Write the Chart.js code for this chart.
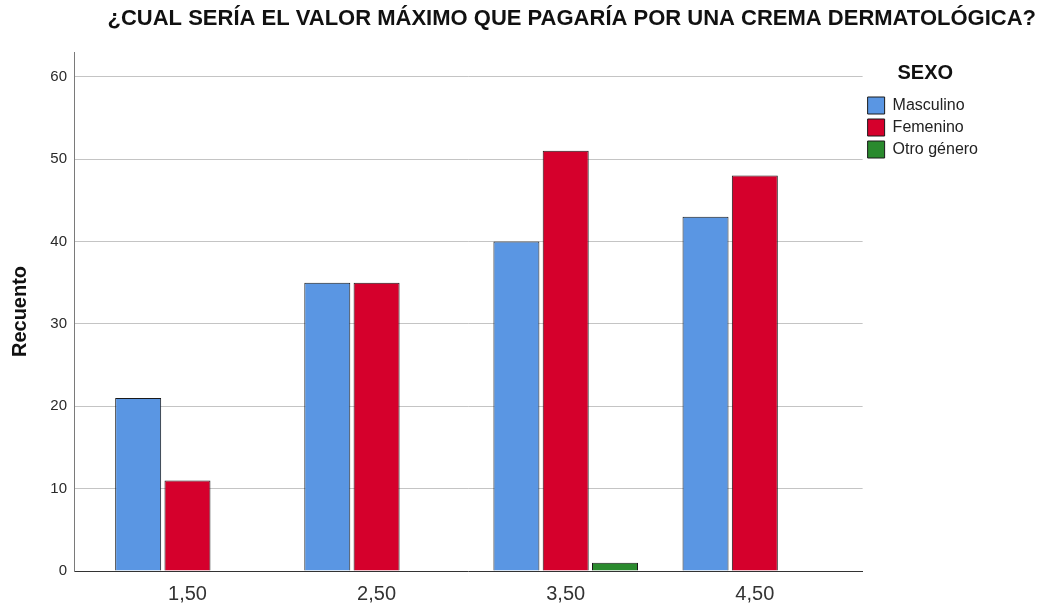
<!DOCTYPE html>
<html lang="es">
<head>
<meta charset="utf-8">
<title>Valor máximo por una crema dermatológica</title>
<script src="https://cdn.jsdelivr.net/npm/chart.js@4.4.1/dist/chart.umd.min.js"></script>
<style>
  html, body { margin: 0; padding: 0; background: #ffffff; }
  #wrap { width: 1043px; height: 607px; position: relative; }
</style>
</head>
<body>
<div id="wrap"><canvas id="grafico"></canvas></div>
<script>
// Datos (recuento por sexo)
const categorias = [1.5, 2.5, 3.5, 4.5];
const etiquetasX = ["1,50", "2,50", "3,50", "4,50"];
const masculino = [21, 35, 40, 43];
const femenino = [11, 35, 51, 48];
const otroGenero = [null, null, 1, null];
const ticksY = [0, 10, 20, 30, 40, 50, 60];

const titulo = "¿CUAL SERÍA EL VALOR MÁXIMO QUE PAGARÍA POR UNA CREMA DERMATOLÓGICA?";
const fuente = "'Liberation Sans', Arial, sans-serif";

// título principal alineado a la derecha, como en el original de SPSS
const tituloPlugin = {
  id: "tituloPlugin",
  afterDraw(chart) {
    const ctx = chart.ctx;
    ctx.save();
    ctx.font = "bold 22px " + fuente;
    ctx.fillStyle = "#111111";
    ctx.textAlign = "right";
    ctx.textBaseline = "middle";
    ctx.fillText(titulo, 1036, 19);
    ctx.restore();
  },
};

const fondoPlugin = {
  id: "fondoPlugin",
  beforeDraw(chart) {
    const ctx = chart.ctx;
    ctx.save();
    ctx.fillStyle = "#ffffff";
    ctx.fillRect(0, 0, chart.width, chart.height);
    ctx.restore();
  },
};

const ctx = document.getElementById("grafico").getContext("2d");

new Chart(ctx, {
  type: "bar",
  data: {
    labels: categorias,
    datasets: [
      {
        label: "Masculino",
        data: masculino,
        backgroundColor: "#5a96e3",
        borderColor: "#1a1a1a",
        borderWidth: 1,
      },
      {
        label: "Femenino",
        data: femenino,
        backgroundColor: "#d5002c",
        borderColor: "#1a1a1a",
        borderWidth: 1,
      },
      {
        label: "Otro género",
        data: otroGenero,
        backgroundColor: "#2a8a2e",
        borderColor: "#1a1a1a",
        borderWidth: 1,
      },
    ],
  },
  options: {
    responsive: true,
    maintainAspectRatio: false,
    animation: false,
    categoryPercentage: 0.782,
    barPercentage: 0.933,
    layout: {
      padding: { top: 52, right: 55, left: 0, bottom: 0 },
    },
    plugins: {
      title: { display: false },
      tooltip: { enabled: false },
      legend: {
        position: "right",
        align: "start",
        fullSize: false,
        title: {
          display: true,
          text: "SEXO",
          color: "#111111",
          font: { family: fuente, size: 20, weight: "bold" },
          padding: { top: 11, bottom: 5 },
        },
        labels: {
          boxWidth: 17,
          boxHeight: 17,
          padding: 5,
          color: "#222222",
          font: { family: fuente, size: 16 },
        },
      },
    },
    scales: {
      x: {
        type: "linear",
        min: 0.9,
        max: 5.07,
        offset: false,
        afterBuildTicks: (scale) => {
          scale.ticks = categorias.map((v) => ({ value: v }));
        },
        afterFit: (scale) => {
          scale.height = 36;
        },
        ticks: {
          padding: 3,
          color: "#333333",
          font: { family: fuente, size: 20 },
          callback: (value) => etiquetasX[categorias.indexOf(value)],
        },
        grid: { display: false },
        border: { display: true, color: "#333333", width: 1 },
      },
      y: {
        min: 0,
        max: 63,
        afterBuildTicks: (scale) => {
          scale.ticks = ticksY.map((v) => ({ value: v }));
        },
        afterFit: (scale) => {
          scale.width = 74;
        },
        title: {
          display: true,
          text: "Recuento",
          color: "#111111",
          font: { family: fuente, size: 20, weight: "bold" },
          padding: { top: 8, bottom: 0 },
        },
        ticks: {
          padding: 7,
          color: "#2a2a2a",
          font: { family: fuente, size: 15 },
        },
        grid: {
          drawTicks: false,
          color: (c) => (c.tick && c.tick.value === 0 ? "rgba(0,0,0,0)" : "#c4c4c4"),
        },
        border: { display: true, color: "#7a7a7a", width: 1 },
      },
    },
  },
  plugins: [fondoPlugin, tituloPlugin],
});
</script>
</body>
</html>
